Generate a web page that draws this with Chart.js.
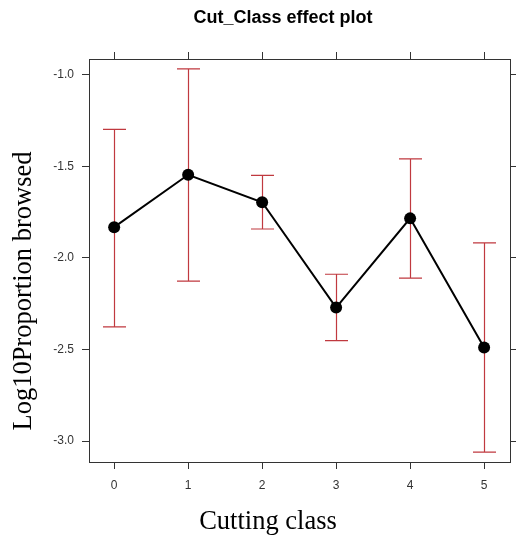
<!DOCTYPE html>
<html>
<head>
<meta charset="utf-8">
<script src="https://cdn.jsdelivr.net/npm/chart.js@4"></script>
<style>
  html, body { margin: 0; padding: 0; background: #fff; }
  #wrap { width: 516px; height: 538px; }
</style>
</head>
<body>
<div id="wrap"><canvas id="chart" width="516" height="538"></canvas></div>
<script>
// values
const cutClass = [0, 1, 2, 3, 4, 5];
const fitValues = [-1.832, -1.546, -1.696, -2.271, -1.784, -2.489];
const lowerValues = [-2.376, -2.127, -1.842, -2.451, -2.110, -3.060];
const upperValues = [-1.298, -0.968, -1.549, -2.089, -1.459, -1.918];
const yTicks = [-3.0, -2.5, -2.0, -1.5, -1.0];

const titleText = "Cut_Class effect plot";
const xTitle = "Cutting class";
const yTitle = "Log10Proportion browsed";

const axisColor = "#333";
const barColor = "#C0393F";

// error bars, drawn under the line and points
const errorBars = {
  id: "errorBars",
  beforeDatasetsDraw(chart) {
    const { ctx, scales: { x, y } } = chart;
    ctx.save();
    ctx.strokeStyle = barColor;
    ctx.lineWidth = 1.2;
    const cap = 11.5;
    cutClass.forEach((c, i) => {
      const px = Math.round(x.getPixelForValue(c)) + 0.5;
      const top = y.getPixelForValue(upperValues[i]);
      const bot = y.getPixelForValue(lowerValues[i]);
      ctx.beginPath();
      ctx.moveTo(px, top);
      ctx.lineTo(px, bot);
      ctx.moveTo(px - cap, top);
      ctx.lineTo(px + cap, top);
      ctx.moveTo(px - cap, bot);
      ctx.lineTo(px + cap, bot);
      ctx.stroke();
    });
    ctx.restore();
  }
};

// titles placed like the original figure
const titles = {
  id: "titles",
  afterDraw(chart) {
    const { ctx } = chart;
    ctx.save();
    ctx.fillStyle = "#000";
    ctx.textAlign = "center";
    ctx.textBaseline = "middle";
    ctx.font = "bold 18px 'Liberation Sans', Arial, sans-serif";
    ctx.fillText(titleText, 283, 18);
    ctx.font = "26.5px 'Liberation Serif', 'Times New Roman', serif";
    ctx.fillText(xTitle, 268, 522);
    ctx.translate(24, 291);
    ctx.rotate(-Math.PI / 2);
    ctx.fillText(yTitle, 0, 0);
    ctx.restore();
  }
};

const tickFont = { family: "'Liberation Sans', Arial, sans-serif", size: 12 };

function gridOpts() {
  return {
    display: true,
    drawOnChartArea: false,
    drawTicks: true,
    tickLength: 7,
    tickWidth: 1,
    color: axisColor
  };
}

new Chart(document.getElementById("chart"), {
  type: "line",
  data: {
    datasets: [{
      data: cutClass.map((c, i) => ({ x: c, y: fitValues[i] })),
      borderColor: "#000",
      borderWidth: 2,
      backgroundColor: "#000",
      pointRadius: 6,
      pointBorderWidth: 0,
      tension: 0
    }]
  },
  options: {
    responsive: false,
    animation: false,
    layout: { padding: { top: 52, left: 0, right: 0, bottom: 0 } },
    plugins: { legend: { display: false }, title: { display: false }, tooltip: { enabled: false } },
    scales: {
      x: {
        type: "linear",
        position: "bottom",
        min: -0.34,
        max: 5.35,
        afterBuildTicks: (axis) => { axis.ticks = cutClass.map(v => ({ value: v })); },
        afterFit: (axis) => { axis.height = 76; },
        ticks: { font: tickFont, color: axisColor, padding: 9, maxRotation: 0 },
        grid: gridOpts(),
        border: { display: true, color: axisColor, width: 1 }
      },
      xTop: {
        type: "linear",
        position: "top",
        min: -0.34,
        max: 5.35,
        afterBuildTicks: (axis) => { axis.ticks = cutClass.map(v => ({ value: v })); },
        afterFit: (axis) => { axis.height = 7; },
        ticks: { display: false },
        grid: gridOpts(),
        border: { display: true, color: axisColor, width: 1 }
      },
      y: {
        position: "left",
        min: -3.114,
        max: -0.914,
        afterBuildTicks: (axis) => { axis.ticks = yTicks.map(v => ({ value: v })); },
        afterFit: (axis) => { axis.width = 89; },
        ticks: { font: tickFont, color: axisColor, padding: 8, callback: (v) => v.toFixed(1) },
        grid: gridOpts(),
        border: { display: true, color: axisColor, width: 1 }
      },
      yRight: {
        position: "right",
        min: -3.114,
        max: -0.914,
        afterBuildTicks: (axis) => { axis.ticks = yTicks.map(v => ({ value: v })); },
        afterFit: (axis) => { axis.width = 4; },
        ticks: { display: false },
        grid: gridOpts(),
        border: { display: true, color: axisColor, width: 1 }
      }
    }
  },
  plugins: [errorBars, titles]
});
</script>
</body>
</html>
